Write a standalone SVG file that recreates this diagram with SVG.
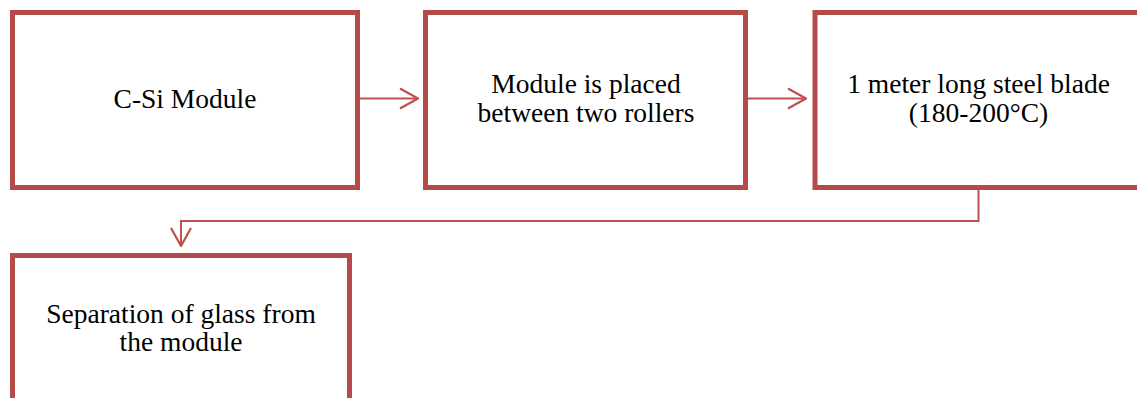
<svg xmlns="http://www.w3.org/2000/svg" width="1137" height="398" viewBox="0 0 1137 398">
  <style>
    .box { fill: #ffffff; stroke: #b54b49; stroke-width: 5; }
    .lbl { font-family: "Liberation Serif", "Times New Roman", serif; font-size: 27.5px; fill: #000000; text-anchor: middle; }
    .conn { fill: none; stroke: #c0504d; stroke-width: 2; }
  </style>
  <defs>
    <marker id="chevron" viewBox="0 0 12 12" refX="11" refY="6" markerWidth="12" markerHeight="12" markerUnits="userSpaceOnUse" orient="auto">
      <path d="M0,0 L11,6 L0,12" fill="none" stroke="#c0504d" stroke-width="2"/>
    </marker>
    <marker id="chevronBig" viewBox="0 0 20 22" refX="19" refY="11" markerWidth="20" markerHeight="22" markerUnits="userSpaceOnUse" orient="auto">
      <path d="M1,1 L19,11 L1,21" fill="none" stroke="#c0504d" stroke-width="2.2"/>
    </marker>
  </defs>

  <g id="connectors">
    <path class="conn" d="M360,98.5 L418,98.5" marker-end="url(#chevronBig)"/>
    <path class="conn" d="M748,98.5 L806,98.5" marker-end="url(#chevronBig)"/>
    <path class="conn" d="M978.5,190 L978.5,221 L181,221 L181,246" marker-end="url(#chevronBig)"/>
  </g>

  <g id="node-csi-module">
    <rect class="box" x="12.5" y="12.5" width="345" height="175"/>
    <text class="lbl" x="185" y="108">C-Si Module</text>
  </g>

  <g id="node-rollers">
    <rect class="box" x="425.5" y="12.5" width="320" height="175"/>
    <text class="lbl" x="586" y="93">Module is placed</text>
    <text class="lbl" x="586" y="122">between two rollers</text>
  </g>

  <g id="node-blade">
    <rect class="box" x="815" y="12.5" width="330" height="175"/>
    <text class="lbl" x="978.5" y="92.5">1 meter long steel blade</text>
    <text class="lbl" x="978.5" y="121.5">(180-200°C)</text>
  </g>

  <g id="node-separation">
    <rect class="box" x="12.5" y="255.5" width="337" height="160"/>
    <text class="lbl" x="181" y="322.5">Separation of glass from</text>
    <text class="lbl" x="181" y="350.5">the module</text>
  </g>
</svg>
